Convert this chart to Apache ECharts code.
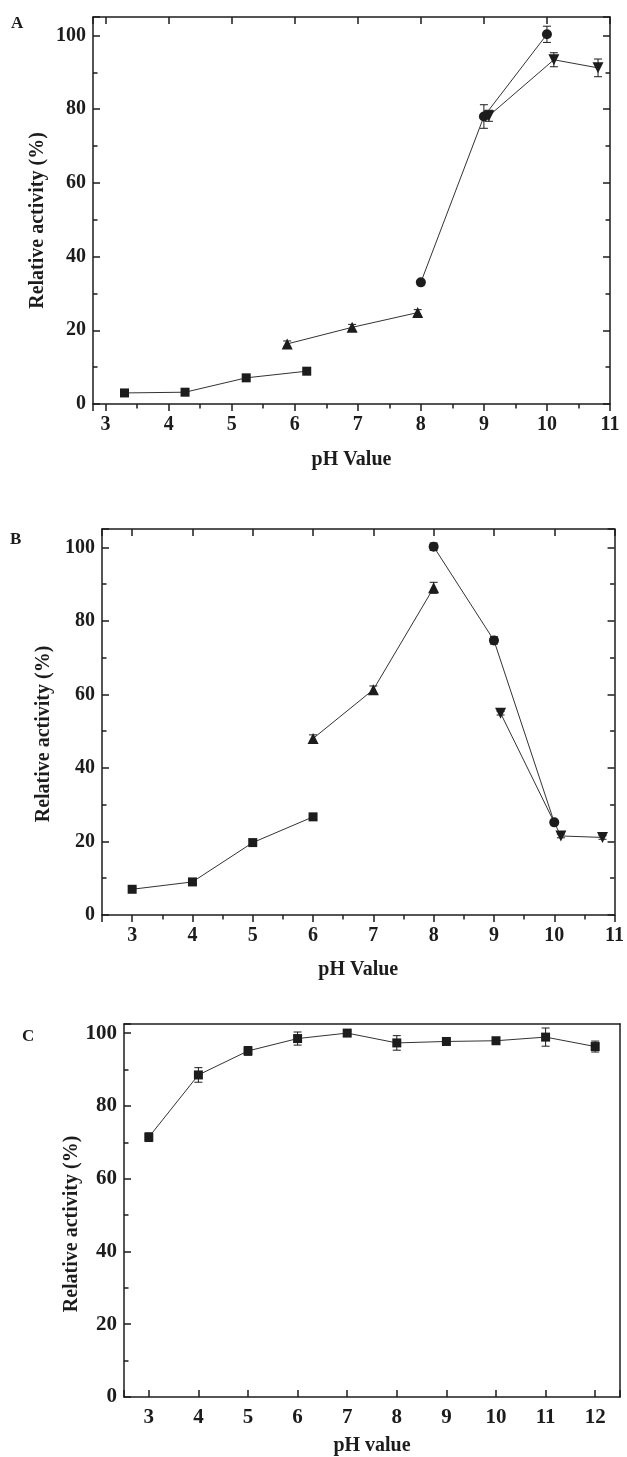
<!DOCTYPE html>
<html>
<head>
<meta charset="utf-8">
<script src="https://cdn.jsdelivr.net/npm/echarts@6/dist/echarts.min.js"></script>
<style>
  html, body { margin: 0; padding: 0; background: #fff; }
  #chart { width: 627px; height: 1457px; }
</style>
</head>
<body>
<div id="chart"></div>
<script>
// ---- panel A ----
const phA_sq = [3.3, 4.26, 5.23, 6.19];
const actA_sq = [3.0, 3.2, 7.1, 8.9];
const errA_sq = [0.4, 0.4, 0.5, 0.5];
const phA_up = [5.88, 6.91, 7.95];
const actA_up = [16.3, 20.8, 24.8];
const errA_up = [0.8, 0.8, 0.8];
const phA_ci = [8.0, 9.0, 10.0];
const actA_ci = [33.0, 78.0, 100.3];
const errA_ci = [0.6, 3.2, 2.2];
const phA_dn = [9.08, 10.11, 10.81];
const actA_dn = [78.2, 93.4, 91.2];
const errA_dn = [1.5, 1.9, 2.4];

// ---- panel B ----
const phB_sq = [3, 4, 5, 6];
const actB_sq = [7.0, 9.0, 19.7, 26.7];
const errB_sq = [0.5, 0.5, 0.6, 0.6];
const phB_up = [6, 7, 8];
const actB_up = [48.0, 61.3, 89.0];
const errB_up = [1.0, 1.0, 1.5];
const phB_ci = [8, 9, 10];
const actB_ci = [100.2, 74.7, 25.2];
const errB_ci = [1.0, 1.0, 0.5];
const phB_dn = [9.11, 10.11, 10.8];
const actB_dn = [54.9, 21.5, 21.1];
const errB_dn = [0.5, 0.5, 0.5];

// ---- panel C ----
const phC = [3, 4, 5, 6, 7, 8, 9, 10, 11, 12];
const actC = [71.4, 88.5, 95.1, 98.5, 100, 97.3, 97.7, 97.9, 98.9, 96.3];
const errC = [1.2, 2.0, 1.2, 1.8, 0.5, 2.0, 0.5, 0.5, 2.5, 1.5];

const yTicks = [0, 20, 40, 60, 80, 100];

const ink = '#1c1c1c';
const serif = '"Liberation Serif", "Times New Roman", serif';

const panels = [
  { grid: { left: 93, top: 17, width: 517, height: 387 }, xMin: 2.8, xMax: 11, xSplit: 8, xMinorSplit: 16,
    yMax: 105, xTickInside: false, box: true, label: 'A', labelPos: [11, 15],
    xName: 'pH Value', xGap: 46, yGap: 45, yShift: 20, fs: 20, nameFs: 20 },
  { grid: { left: 102, top: 529, width: 516, height: 386 }, xMin: 2.5, xMax: 11, xSplit: 8, xMinorSplit: 17,
    yMax: 105, xTickInside: false, box: true, label: 'B', labelPos: [10, 531],
    xName: 'pH Value', xGap: 45, yGap: 48, yShift: 24, fs: 20, nameFs: 20 },
  { grid: { left: 124, top: 1024, width: 496, height: 373 }, xMin: 2.5, xMax: 12.5, xSplit: 10, xMinorSplit: 0,
    yMax: 102.5, xTickInside: true, box: false, label: 'C', labelPos: [22, 1028],
    xName: 'pH value', xGap: 39, yGap: 42, yShift: 27, fs: 21, nameFs: 20 }
];

const xAxes = [];
const yAxes = [];
const mainX = [];
const mainY = [];

panels.forEach(function (p, g) {
  const lineStyle = { color: ink, width: 1.5 };
  const tickStyle = { color: ink, width: 1.5 };
  // bottom, labelled
  mainX.push(xAxes.length);
  xAxes.push({
    type: 'value', gridIndex: g, position: 'bottom', min: p.xMin, max: p.xMax, splitNumber: p.xSplit,
    axisLine: { onZero: false, lineStyle: lineStyle },
    axisTick: { inside: p.xTickInside, length: 7, lineStyle: tickStyle },
    splitLine: { show: false },
    axisLabel: {
      color: ink, fontFamily: serif, fontWeight: 'bold', fontSize: p.fs, margin: p.xTickInside ? 10 : 11,
      formatter: function (v) { return Number.isInteger(v) ? String(v) : ''; }
    },
    name: p.xName, nameLocation: 'middle', nameGap: p.xGap, nameMoveOverlap: false,
    nameTextStyle: { color: ink, fontFamily: serif, fontWeight: 'bold', fontSize: p.nameFs }
  });
  if (p.xMinorSplit) {
    xAxes.push({
      type: 'value', gridIndex: g, position: 'bottom', min: p.xMin, max: p.xMax, splitNumber: p.xMinorSplit,
      axisLine: { show: false }, axisTick: { inside: p.xTickInside, length: 4, lineStyle: tickStyle },
      axisLabel: { show: false }, splitLine: { show: false }
    });
  }
  // top
  xAxes.push({
    type: 'value', gridIndex: g, position: 'top', min: p.xMin, max: p.xMax, splitNumber: p.xSplit,
    axisLine: { onZero: false, lineStyle: lineStyle },
    axisTick: { show: p.box, inside: true, length: 7, lineStyle: tickStyle },
    axisLabel: { show: false }, splitLine: { show: false }
  });
  if (p.box) {
    xAxes.push({
      type: 'value', gridIndex: g, position: 'top', min: p.xMin, max: p.xMax, splitNumber: p.xMinorSplit,
      axisLine: { show: false }, axisTick: { inside: true, length: 4.5, lineStyle: tickStyle },
      axisLabel: { show: false }, splitLine: { show: false }
    });
  }
  // left, labelled
  mainY.push(yAxes.length);
  yAxes.push({
    type: 'value', gridIndex: g, position: 'left', min: 0, max: p.yMax, interval: 20,
    axisLine: { show: true, onZero: false, lineStyle: lineStyle },
    axisTick: { show: true, inside: true, length: 7, lineStyle: tickStyle },
    splitLine: { show: false },
    axisLabel: {
      color: ink, fontFamily: serif, fontWeight: 'bold', fontSize: p.fs, margin: 7,
      formatter: function (v) { return yTicks.indexOf(v) >= 0 ? String(v) : ''; }
    },
    name: 'Relative activity (%)', nameLocation: 'middle', nameGap: p.yGap, nameMoveOverlap: false,
    nameTextStyle: { color: ink, fontFamily: serif, fontWeight: 'bold', fontSize: p.nameFs, padding: [0, p.yShift, 0, 0] }
  });
  yAxes.push({
    type: 'value', gridIndex: g, position: 'left', min: 0, max: p.yMax, interval: 10,
    axisLine: { show: false }, axisTick: { show: true, inside: true, length: 4.5, lineStyle: tickStyle },
    axisLabel: { show: false }, splitLine: { show: false }
  });
  // right
  yAxes.push({
    type: 'value', gridIndex: g, position: 'right', min: 0, max: p.yMax, interval: 20,
    axisLine: { show: true, onZero: false, lineStyle: lineStyle },
    axisTick: { show: p.box, inside: true, length: 7, lineStyle: tickStyle },
    axisLabel: { show: false }, splitLine: { show: false }
  });
  if (p.box) {
    yAxes.push({
      type: 'value', gridIndex: g, position: 'right', min: 0, max: p.yMax, interval: 10,
      axisLine: { show: false }, axisTick: { show: true, inside: true, length: 4.5, lineStyle: tickStyle },
      axisLabel: { show: false }, splitLine: { show: false }
    });
  }
});

function pairs(xs, ys) { return xs.map(function (x, i) { return [x, ys[i]]; }); }
function triples(xs, ys, es) { return xs.map(function (x, i) { return [x, ys[i], es[i]]; }); }

function errorBarItem(params, api) {
  const x = api.value(0), y = api.value(1), e = api.value(2);
  const hi = api.coord([x, y + e]);
  const lo = api.coord([x, y - e]);
  const w = 4;
  const st = { stroke: ink, lineWidth: 1 };
  return {
    type: 'group',
    children: [
      { type: 'line', shape: { x1: hi[0], y1: hi[1], x2: lo[0], y2: lo[1] }, style: st },
      { type: 'line', shape: { x1: hi[0] - w, y1: hi[1], x2: hi[0] + w, y2: hi[1] }, style: st },
      { type: 'line', shape: { x1: lo[0] - w, y1: lo[1], x2: lo[0] + w, y2: lo[1] }, style: st }
    ]
  };
}

const series = [];
function addGroup(g, xs, ys, es, symbol, size, rotate) {
  series.push({
    type: 'custom', xAxisIndex: mainX[g], yAxisIndex: mainY[g],
    renderItem: errorBarItem, data: triples(xs, ys, es), z: 2, silent: true
  });
  series.push({
    type: 'line', xAxisIndex: mainX[g], yAxisIndex: mainY[g],
    data: pairs(xs, ys), symbol: symbol, symbolSize: size, symbolRotate: rotate || 0,
    showAllSymbol: true, animation: false, z: 3,
    lineStyle: { color: '#333', width: 1 },
    itemStyle: { color: ink, borderWidth: 0 }
  });
}

addGroup(0, phA_sq, actA_sq, errA_sq, 'rect', 9);
addGroup(0, phA_up, actA_up, errA_up, 'triangle', 11);
addGroup(0, phA_ci, actA_ci, errA_ci, 'circle', 10);
addGroup(0, phA_dn, actA_dn, errA_dn, 'triangle', 11, 180);

addGroup(1, phB_sq, actB_sq, errB_sq, 'rect', 9);
addGroup(1, phB_up, actB_up, errB_up, 'triangle', 11);
addGroup(1, phB_ci, actB_ci, errB_ci, 'circle', 10);
addGroup(1, phB_dn, actB_dn, errB_dn, 'triangle', 11, 180);

addGroup(2, phC, actC, errC, 'rect', 9);

const chart = echarts.init(document.getElementById('chart'), null, { renderer: 'canvas' });
chart.setOption({
  animation: false,
  backgroundColor: '#fff',
  title: panels.map(function (p) {
    return {
      text: p.label, left: p.labelPos[0], top: p.labelPos[1], padding: 0,
      textStyle: { color: ink, fontFamily: serif, fontWeight: 'bold', fontSize: 17 }
    };
  }),
  grid: panels.map(function (p) { return p.grid; }),
  xAxis: xAxes,
  yAxis: yAxes,
  series: series
});
</script>
</body>
</html>
